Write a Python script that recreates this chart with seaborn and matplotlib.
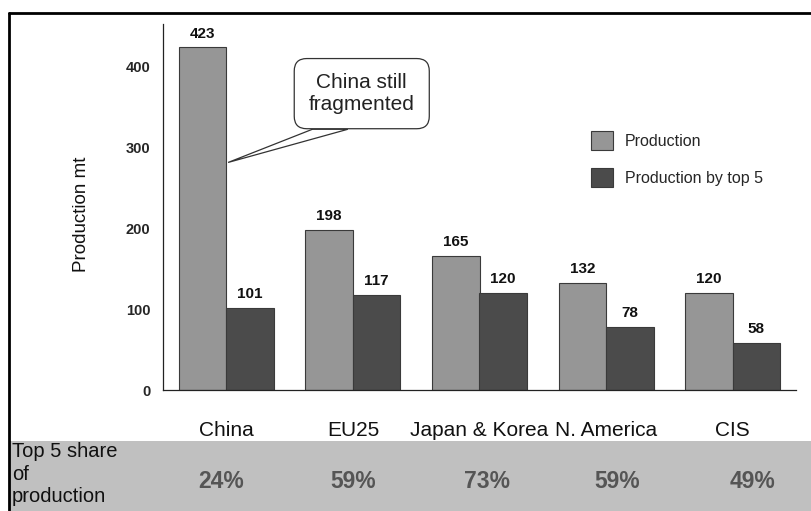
#%% packages
import numpy as np
import pandas as pd
import seaborn as sns
import matplotlib.pyplot as plt
from matplotlib.lines import Line2D
from matplotlib.patches import Rectangle, Polygon
from matplotlib.transforms import blended_transform_factory

#%% data
regions = ["China", "EU25", "Japan & Korea", "N. America", "CIS"]
production = [423, 198, 165, 132, 120]
production_top5 = [101, 117, 120, 78, 58]
top5_share = ["24%", "59%", "73%", "59%", "49%"]
series_names = ["Production", "Production by top 5"]

df = pd.DataFrame({
    "region": regions * 2,
    "value": production + production_top5,
    "series": [series_names[0]] * len(regions) + [series_names[1]] * len(regions),
})

#%% style
sns.set_style("white")
plt.rcParams["font.family"] = ["Liberation Sans", "DejaVu Sans"]

fig = plt.figure(figsize=(8.11, 5.11), dpi=100)
ax = fig.add_axes([163 / 811, 1 - 390 / 511, 633 / 811, 366 / 511])

sns.barplot(data=df, x="region", y="value", hue="series", order=regions,
            hue_order=series_names, palette=["#969696", "#4b4b4b"],
            width=0.75, edgecolor="#3a3a3a", linewidth=0.8, ax=ax, legend=True)

for cont in ax.containers:
    ax.bar_label(cont, padding=5, fontsize=11, fontweight="bold", color="#111111")

ax.set_xlim(-0.5, 4.5)
ax.set_ylim(0, 452)
ax.set_yticks([0, 100, 200, 300, 400])
ax.tick_params(axis="y", direction="out", length=5, width=0.8, color="#222222",
               labelsize=10.5, pad=4)
for t in ax.get_yticklabels():
    t.set_fontweight("bold")

# category labels centred, separator ticks at boundaries
ax.set_xticks(range(len(regions)))
ax.set_xticklabels(regions, fontsize=15, color="#111111")
ax.tick_params(axis="x", which="major", length=0, pad=22)
ax.set_xticks(np.arange(-0.5, len(regions)), minor=True)
ax.tick_params(axis="x", which="minor", direction="out", length=5, width=0.8, color="#222222")

ax.set_xlabel("")
ax.set_ylabel("Production mt", fontsize=13.5, color="#111111")
ax.yaxis.set_label_coords(-0.115, 0.48)

sns.despine(ax=ax)
for s in ["left", "bottom"]:
    ax.spines[s].set_color("#222222")
    ax.spines[s].set_linewidth(0.9)

# legend
handles = [Rectangle((0, 0), 1, 1, fc="#969696", ec="#3a3a3a", lw=0.8),
           Rectangle((0, 0), 1, 1, fc="#4b4b4b", ec="#3a3a3a", lw=0.8)]
ax.legend(handles, series_names, loc="upper left", frameon=False, fontsize=11.5,
          bbox_to_anchor=(591 / 811, 1 - 131 / 511), bbox_transform=fig.transFigure,
          handlelength=1.4, handleheight=1.45, handletextpad=0.7, labelspacing=1.15,
          borderpad=0, borderaxespad=0)

# callout
tail = Polygon([(0.68, 322), (0.96, 322), (0.014, 281)], closed=True,
               fc="white", ec="#333333", lw=0.9, zorder=4)
ax.add_patch(tail)
ax.text(1.07, 366, "China still\nfragmented", ha="center", va="center",
        fontsize=15, color="#222222", linespacing=1.2, zorder=5,
        bbox=dict(boxstyle="round,pad=0.7,rounding_size=0.6", fc="white",
                  ec="#333333", lw=0.9))

# bottom band with top 5 share
fig.patches.append(Rectangle((10 / 811, 0), 1, 70 / 511, transform=fig.transFigure,
                             fc="#c0c0c0", ec="none", zorder=-1))
fig.text(12 / 811, 1 - 442 / 511, "Top 5 share\nof\nproduction", ha="left", va="top",
         fontsize=14.5, color="#111111", linespacing=1.25)
share_x = [-0.04, 1.0, 2.06, 3.09, 4.16]
trans = blended_transform_factory(ax.transData, fig.transFigure)
for xv, s in zip(share_x, top5_share):
    ax.text(xv, 1 - 482 / 511, s, transform=trans, ha="center", va="center",
            fontsize=16.5, fontweight="bold", color="#555555", clip_on=False)

# frame lines
fig.lines.append(Line2D([9 / 811, 1], [1 - 13 / 511] * 2, transform=fig.transFigure,
                        color="black", lw=2))
fig.lines.append(Line2D([9 / 811] * 2, [0, 1 - 13 / 511], transform=fig.transFigure,
                        color="black", lw=2))

fig.savefig("out.png", dpi=100)
